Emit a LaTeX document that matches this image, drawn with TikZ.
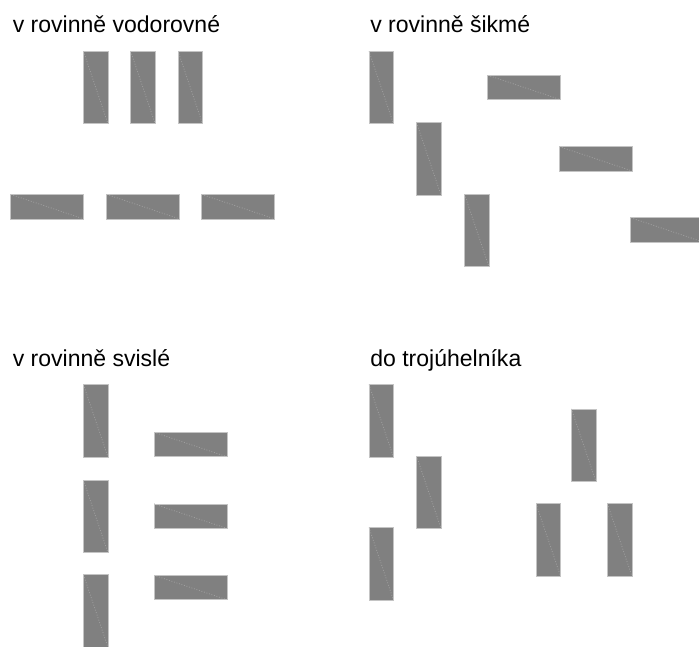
\documentclass[tikz,border=0pt]{standalone}
\usepackage{fontspec}
\setmainfont{Liberation Sans}
\usetikzlibrary{positioning}
\definecolor{brickgray}{HTML}{808080}
\definecolor{brickedge}{HTML}{C4C4C4}
\definecolor{brickline}{HTML}{9E9E9E}
\tikzset{
  brick/.style={rectangle, fill=brickgray, draw=brickedge, line width=0.4pt, inner sep=0pt,
    path picture={\draw[brickline, densely dotted, line width=0.5pt] (path picture bounding box.north west) -- (path picture bounding box.south east);}},
  vbrick/.style={brick, minimum width=0.49cm, minimum height=1.45cm},
  hbrick/.style={brick, minimum width=1.46cm, minimum height=0.49cm},
  title/.style={anchor=base west, inner sep=0pt, font=\fontsize{13.1}{15}\selectfont}
}
\begin{document}
\begin{tikzpicture}[x=0.02cm, y=-0.02cm]
\useasboundingbox (0,0) rectangle (699,646);
% v rovine vodorovne
\node[title] (t1) at (12.5,32.5) {v rovinně vodorovné};
\foreach \x [count=\i] in {95.7,142.9,190.3} {\node[vbrick] (vv\i) at (\x,87.5) {};}
\foreach \x [count=\i] in {47.3,143.3,238.3} {\node[hbrick] (vh\i) at (\x,206.7) {};}
% v rovine sikme
\node[title] (t2) at (370,32.5) {v rovinně šikmé};
\node[vbrick] (sv1) at (381.2,87.5) {};
\node[vbrick] (sv2) at (428.8,159) {};
\node[vbrick] (sv3) at (476.7,230.5) {};
\node[hbrick] (sh1) at (524.3,87.5) {};
\node[hbrick] (sh2) at (595.8,158.8) {};
\node[hbrick] (sh3) at (667.3,230) {};
% v rovine svisle
\node[title] (t3) at (12.5,366) {v rovinně svislé};
\foreach \y [count=\i] in {420.7,516.5,611} {\node[vbrick] (pv\i) at (95.7,\y) {};}
\foreach \y [count=\i] in {444.5,516.2,587.5} {\node[hbrick] (ph\i) at (190.5,\y) {};}
% do trojuhelnika
\node[title] (t4) at (370,366) {do trojúhelníka};
\node[vbrick] (dv1) at (381.2,420.7) {};
\node[vbrick] (dv2) at (428.8,492.3) {};
\node[vbrick] (dv3) at (381.2,563.7) {};
\node[vbrick] (tr1) at (583.7,445.2) {};
\node[vbrick] (tr2) at (548.3,540) {};
\node[vbrick] (tr3) at (619.7,540) {};
\end{tikzpicture}
\end{document}
